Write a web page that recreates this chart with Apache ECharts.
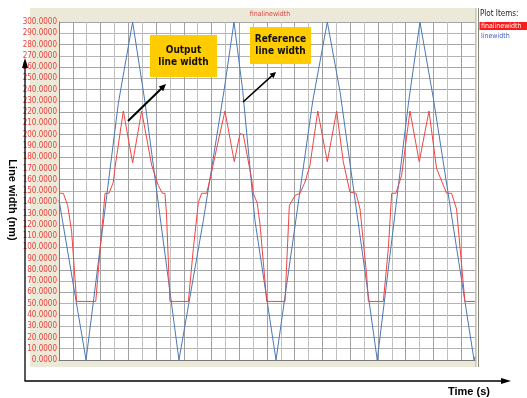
<!DOCTYPE html>
<html><head><meta charset="utf-8">
<script src="https://cdn.jsdelivr.net/npm/echarts@6/dist/echarts.min.js"></script>
<style>html,body{margin:0;padding:0;background:#fff}#c{width:527px;height:398px}</style>
</head><body><div id="c"></div>
<script>
// ---- data ----
const seriesNames = ['finalinewidth', 'linewidth'];
// time in grid divisions (0..30), line width in nm
const finalLineWidth = [
  [0,148],[0.31,148],[0.63,137],[0.91,114],[1.27,52],[2.65,52],[3.05,110],[3.32,148],[3.61,148],
  [3.92,158],[4.04,171],[4.64,221],[5.31,175],[5.96,221],[6.68,173],[7.16,155],[7.45,148],[7.64,148],
  [7.75,130],[8.0,52],[9.33,52],[9.69,99],[10.05,140],[10.29,148],[10.65,148],[11.01,167],[11.37,188],
  [11.97,221],[12.64,176],[13.05,201],[13.29,200],[13.9,160],[14.01,148],[14.3,139],[14.5,120],[14.98,52],
  [16.3,52],[16.61,137],[17.02,146],[17.38,148],[17.74,158],[18.1,173],[18.66,221],[19.35,176],[20.02,221],
  [20.5,176],[20.98,149],[21.42,148],[21.71,134],[22.19,75],[22.31,52],[23.39,52],[23.75,99],[23.99,148],
  [24.3,148],[24.71,164],[25.31,221],[25.98,176],[26.68,221],[27.23,170],[27.95,148],[28.31,148],[28.67,134],
  [29.27,52],[30,52]
];
const lineWidth = [
  [0,142],[1.95,0],[4.28,228],[5.31,300],[6.2,229],[8.65,0],[10.41,124],[11.9,239],[12.62,300],
  [13.25,239],[14.13,124],[15.65,0],[18.3,230],[19.35,300],[20.27,238],[22.95,0],[25.2,228],[26.03,300],
  [27.0,232],[29.93,0],[30,3]
];
const yMin = 0, yMax = 300, yStep = 10;
const xMin = 0, xMax = 30, xStep = 1;
const axisTitleY = 'Line width (nm)';
const axisTitleX = 'Time (s)';
const noteOutput = 'Output\nline width';
const noteReference = 'Reference\nline width';
const legendTitle = 'Plot Items:';

// ---- helpers ----
function arrow(x1, y1, x2, y2, w, head, hw) {
  const dx = x2 - x1, dy = y2 - y1, L = Math.hypot(dx, dy);
  const ux = dx / L, uy = dy / L;
  const bx = x2 - ux * head, by = y2 - uy * head;
  return [
    {type:'line', z:100, shape:{x1:x1,y1:y1,x2:bx+ux,y2:by+uy}, style:{stroke:'#000',lineWidth:w}},
    {type:'polygon', z:100, shape:{points:[[x2,y2],[bx-uy*hw,by+ux*hw],[bx+uy*hw,by-ux*hw]]}, style:{fill:'#000'}}
  ];
}
const narrow = '"Liberation Sans Narrow","DejaVu Sans Condensed","Liberation Sans",Arial,sans-serif';

const chart = echarts.init(document.getElementById('c'), null, {renderer:'canvas'});
chart.setOption({
  animation: false,
  backgroundColor: '#ffffff',
  grid: {left:59, right:52, top:22, bottom:38, show:true, backgroundColor:'#ffffff', borderWidth:0},
  xAxis: {
    type:'value', min:xMin, max:xMax, interval:xStep, z:2,
    axisLabel:{show:false}, axisTick:{show:false},
    axisLine:{show:true, lineStyle:{color:'#7a7a7a', width:1}},
    splitLine:{show:true, lineStyle:{color:['#c0c0c0','#a0a0a0'], width:1}}
  },
  yAxis: {
    type:'value', min:yMin, max:yMax, interval:yStep, z:2,
    axisLabel:{color:'#e8403a', fontSize:8, margin:2, fontFamily:narrow,
      formatter: v => v.toFixed(4)},
    axisTick:{show:false},
    axisLine:{show:true, lineStyle:{color:'#7a7a7a', width:1}},
    splitLine:{show:true, lineStyle:{color:['#a4a4a4','#b4b4b4'], width:1}}
  },
  series: [
    {name:seriesNames[1], type:'line', data:lineWidth, showSymbol:false, z:3,
     lineStyle:{color:'#4b78b5', width:1}, itemStyle:{color:'#4b78b5'}},
    {name:seriesNames[0], type:'line', data:finalLineWidth, showSymbol:false, z:4,
     lineStyle:{color:'#f04545', width:1}, itemStyle:{color:'#f04545'}}
  ],
  graphic: [
    {type:'rect', z:-10, silent:true, shape:{x:30,y:8,width:446,height:359}, style:{fill:'#ece9d8'}},
    {type:'line', z:-9, shape:{x1:476,y1:8,x2:476,y2:367}, style:{stroke:'#b0ad9f',lineWidth:1}},
    {type:'line', z:-9, shape:{x1:478.5,y1:8,x2:478.5,y2:367}, style:{stroke:'#8a877a',lineWidth:1}},
    {type:'text', z:50, style:{x:270, y:14, text:seriesNames[0], fill:'#e84040', font:'7px '+narrow, textAlign:'center', textVerticalAlign:'middle'}},
    {type:'text', z:50, style:{x:480, y:14, text:legendTitle, fill:'#222', font:'8px '+narrow, textVerticalAlign:'middle'}},
    {type:'rect', z:50, shape:{x:479.5,y:22,width:47.5,height:8}, style:{fill:'#ff1a1a'}},
    {type:'text', z:51, style:{x:481, y:26, text:seriesNames[0], fill:'#ffffff', font:'7px '+narrow, textVerticalAlign:'middle'}},
    {type:'text', z:51, style:{x:481, y:36, text:seriesNames[1], fill:'#3a5fb8', font:'7px '+narrow, textVerticalAlign:'middle'}},
    // axes arrows
    {type:'line', z:100, shape:{x1:25,y1:381,x2:25,y2:66}, style:{stroke:'#000',lineWidth:1.3}},
    {type:'polygon', z:100, shape:{points:[[25,58],[22,68],[28,68]]}, style:{fill:'#000'}},
    {type:'line', z:100, shape:{x1:24.5,y1:381,x2:503,y2:381}, style:{stroke:'#000',lineWidth:1.3}},
    {type:'polygon', z:100, shape:{points:[[511,381],[501,378],[501,384]]}, style:{fill:'#000'}},
    {type:'text', z:100, style:{x:469, y:392, text:axisTitleX, fill:'#000', font:'bold 11px "Liberation Sans",Arial,sans-serif', textAlign:'center', textVerticalAlign:'middle'}},
    {type:'text', z:100, x:12, y:200, rotation:-Math.PI/2, style:{x:0, y:0, text:axisTitleY, fill:'#000', font:'bold 11px "Liberation Sans",Arial,sans-serif', textAlign:'center', textVerticalAlign:'middle'}},
    // annotations
    {type:'rect', z:100, shape:{x:150,y:35,width:67,height:42}, style:{fill:'#ffcc00'}},
    {type:'text', z:101, style:{x:183.5, y:56, text:noteOutput, fill:'#111', font:'bold 10px '+narrow, lineHeight:12, textAlign:'center', textVerticalAlign:'middle'}},
    {type:'rect', z:100, shape:{x:250,y:27,width:61,height:37}, style:{fill:'#ffcc00'}},
    {type:'text', z:101, style:{x:280.5, y:45.5, text:noteReference, fill:'#111', font:'bold 10px '+narrow, lineHeight:12, textAlign:'center', textVerticalAlign:'middle'}}
  ].concat(arrow(128,121,166,84,2,7,3.2)).concat(arrow(243,102,276,72,1.6,6,3))
});
</script>
</body></html>
